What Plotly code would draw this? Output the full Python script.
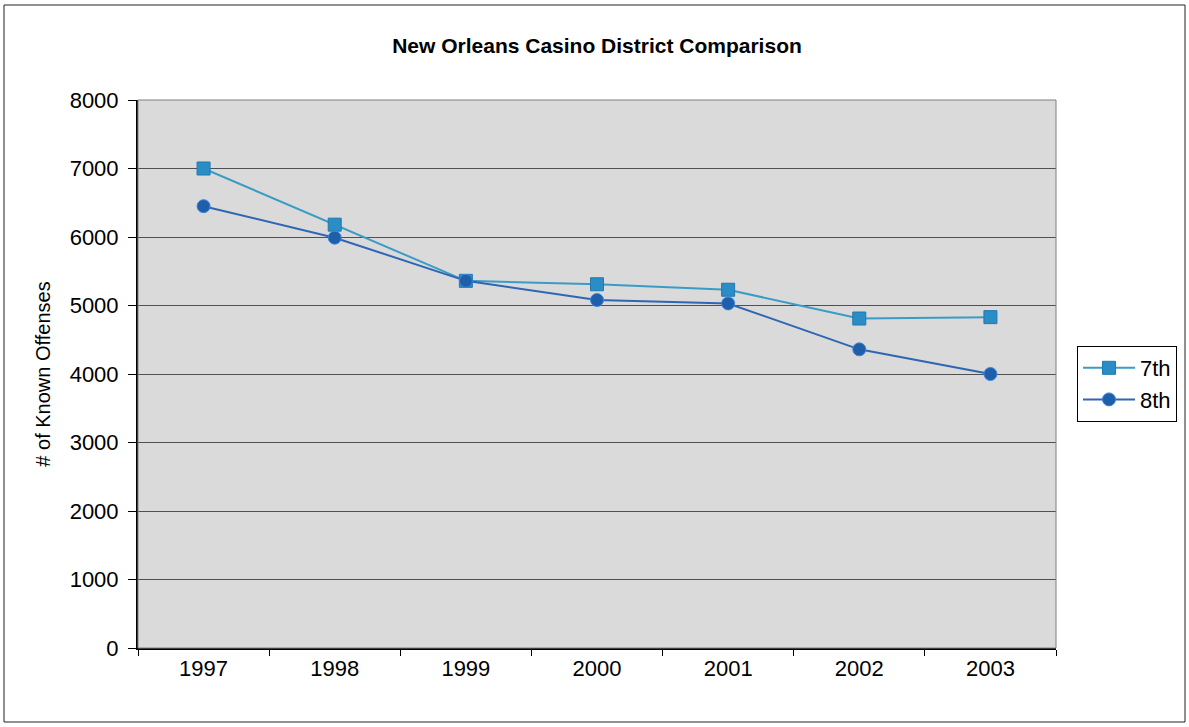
import plotly.graph_objects as go

years = ["1997", "1998", "1999", "2000", "2001", "2002", "2003"]
seventh = [7000, 6180, 5360, 5310, 5230, 4810, 4830]
eighth = [6450, 5990, 5360, 5080, 5030, 4360, 4000]
y_ticks = [0, 1000, 2000, 3000, 4000, 5000, 6000, 7000, 8000]

FONT = "Liberation Sans Narrow, Arial Narrow, Liberation Sans, Arial, sans-serif"

fig = go.Figure()
fig.add_trace(go.Scatter(
    x=years, y=seventh, name="7th", mode="lines+markers",
    line=dict(color="#3a9cc6", width=2),
    marker=dict(symbol="square", size=13, color="#2b8dc6",
                line=dict(color="#2078b0", width=1)),
))
fig.add_trace(go.Scatter(
    x=years, y=eighth, name="8th", mode="lines+markers",
    line=dict(color="#2e66b4", width=2),
    marker=dict(symbol="circle", size=13, color="#1f5ea8",
                line=dict(color="#3a86e0", width=1)),
))

L, R, T, B = 138, 1056, 100, 648
W, H = R - L, B - T

def px(x):
    return (x - L) / W

def py(y):
    return (B - y) / H

shapes = [
    # outer chart border
    dict(type="rect", xref="paper", yref="paper",
         x0=px(4), x1=px(1185), y0=py(722), y1=py(5),
         line=dict(color="#222222", width=1), layer="below"),
    # plot area border (right/top gray)
    dict(type="rect", xref="paper", yref="paper", x0=0, x1=1, y0=0, y1=1,
         line=dict(color="#808080", width=1), layer="above"),
]

fig.update_layout(
    width=1189, height=727,
    margin=dict(l=L, r=1189 - R, t=T, b=727 - B),
    paper_bgcolor="white",
    plot_bgcolor="#dadada",
    font=dict(family=FONT, color="#000000", size=22),
    title=dict(text="New Orleans Casino District Comparison",
               x=0.5, xref="paper", xanchor="center",
               y=1 - 46 / 727, yanchor="middle",
               font=dict(family=FONT, size=21, color="#000000", weight="bold")),
    showlegend=True,
    legend=dict(x=px(1077), xanchor="left", y=py(346), yanchor="top",
                bgcolor="white", bordercolor="#000000", borderwidth=1,
                itemwidth=52,
                font=dict(family=FONT, size=22)),
    shapes=shapes,
)

fig.update_xaxes(
    type="category", categoryorder="array", categoryarray=years,
    showgrid=False, showline=True, linecolor="#000000", linewidth=2,
    ticks="outside", ticklen=6, tickcolor="#000000",
    tickson="boundaries", tickfont=dict(family=FONT, size=22),
    range=[-0.5, 6.5],
)
fig.update_yaxes(
    range=[0, 8000], tickvals=y_ticks,
    showgrid=True, gridcolor="#505050", gridwidth=1,
    showline=True, linecolor="#000000", linewidth=2,
    ticks="outside", ticklen=8, tickcolor="#000000",
    ticklabelstandoff=5,
    tickfont=dict(family=FONT, size=22),
    title=dict(text="# of Known Offenses", font=dict(family=FONT, size=20),
               standoff=14),
    zeroline=False,
)

fig.write_html("out.html")
